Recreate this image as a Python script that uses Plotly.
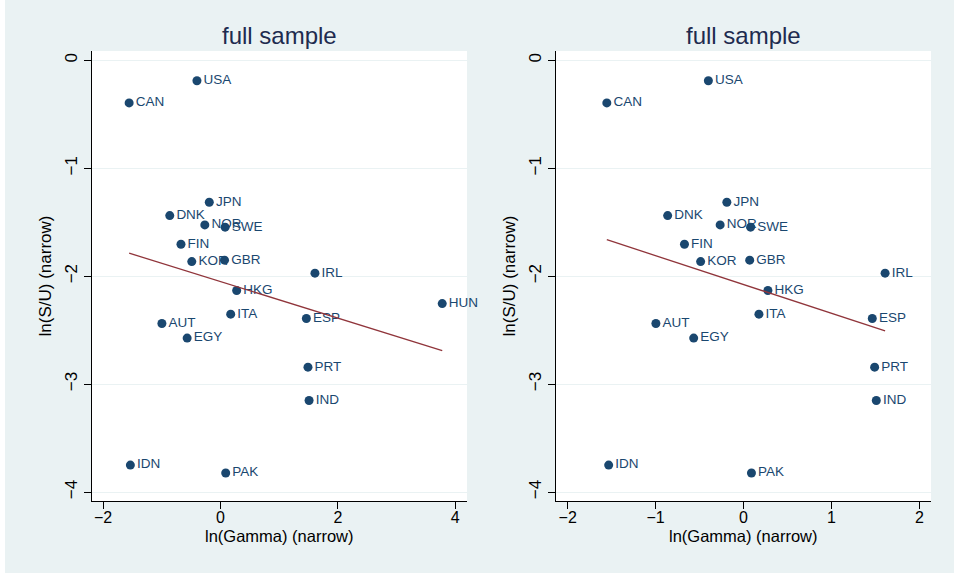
import numpy as np
import plotly.graph_objects as go

countries = ["USA", "CAN", "JPN", "DNK", "NOR", "SWE", "FIN", "KOR", "GBR", "IRL",
             "HKG", "HUN", "ITA", "ESP", "AUT", "EGY", "PRT", "IND", "IDN", "PAK"]
ln_gamma = [-0.40, -1.555, -0.19, -0.863, -0.266, 0.08, -0.672, -0.488, 0.07, 1.61,
            0.277, 3.778, 0.175, 1.464, -0.997, -0.567, 1.491, 1.51, -1.534, 0.09]
ln_su = [-0.19, -0.395, -1.315, -1.439, -1.525, -1.546, -1.704, -1.865, -1.852, -1.972,
         -2.133, -2.254, -2.352, -2.392, -2.439, -2.574, -2.843, -3.152, -3.75, -3.824]
excluded_right = ["HUN"]

titles = ["full sample", "full sample"]
x_title = "ln(Gamma) (narrow)"
y_title = "ln(S/U) (narrow)"
left_xticks = [-2, 0, 2, 4]
right_xticks = [-2, -1, 0, 1, 2]
yticks = [0, -1, -2, -3, -4]

NAVY = "#1a476f"
MAROON = "#90353b"
BG = "#eaf2f3"
FONT = "Liberation Sans, Arial, sans-serif"

W, H = 949, 573
L, R, T, B = 87, 23, 51, 72
pw = W - L - R
dom_left = [0, (462 - L) / pw]
dom_right = [(551 - L) / pw, 1]

fig = go.Figure()

def add_panel(xs, ys, labels, xa, ya):
    fig.add_trace(go.Scatter(
        x=xs, y=ys, mode="markers+text", text=labels, textposition="middle right",
        marker=dict(color=NAVY, size=9),
        textfont=dict(color=NAVY, size=13.5, family=FONT),
        xaxis=xa, yaxis=ya, showlegend=False, cliponaxis=False, hoverinfo="skip"))
    slope, icpt = np.polyfit(np.array(xs), np.array(ys), 1)
    xl = np.array([min(xs), max(xs)])
    fig.add_trace(go.Scatter(
        x=xl, y=icpt + slope * xl, mode="lines",
        line=dict(color=MAROON, width=1.3),
        xaxis=xa, yaxis=ya, showlegend=False, hoverinfo="skip"))

add_panel(ln_gamma, ln_su, countries, "x", "y")
keep = [i for i, c in enumerate(countries) if c not in excluded_right]
add_panel([ln_gamma[i] for i in keep], [ln_su[i] for i in keep],
          [countries[i] for i in keep], "x2", "y2")

axis_common = dict(
    showline=True, linecolor="#000000", linewidth=1.3,
    ticks="outside", ticklen=7, tickcolor="#000000", tickwidth=1,
    tickfont=dict(family=FONT, size=16, color="#000000"),
    zeroline=False, mirror=False,
)
xcommon = dict(axis_common, showgrid=False, ticklabelstandoff=-5)
ycommon = dict(axis_common, showgrid=True, gridcolor=BG, gridwidth=1,
               tickvals=yticks, ticktext=["0", "\u22121", "\u22122", "\u22123", "\u22124"],
               tickangle=-90, range=[-4.083, 0.086],
               tickfont=dict(family=FONT, size=17, color="#000000"),
               title=dict(text=y_title, font=dict(family=FONT, size=17, color="#000000"), standoff=6))

def minus(v):
    return ("\u2212" + str(-v)) if v < 0 else str(v)

annotations = []
for dom, ttl in zip([dom_left, dom_right], titles):
    annotations.append(dict(
        text=ttl, x=sum(dom) / 2, y=1, xref="paper", yref="paper",
        xanchor="center", yanchor="middle", yshift=16, showarrow=False,
        font=dict(family=FONT, size=24, color="#1e2b4f")))
    annotations.append(dict(
        text=x_title, x=sum(dom) / 2, y=0, xref="paper", yref="paper",
        xanchor="center", yanchor="middle", yshift=-35, showarrow=False,
        font=dict(family=FONT, size=16.5, color="#000000")))

fig.update_layout(
    width=W, height=H, autosize=False,
    margin=dict(l=L, r=R, t=T, b=B, pad=0),
    paper_bgcolor=BG, plot_bgcolor="#ffffff",
    font=dict(family=FONT),
    xaxis=dict(xcommon, domain=dom_left, range=[-2.1875, 4.2], anchor="y",
               tickvals=left_xticks, ticktext=[minus(v) for v in left_xticks]),
    yaxis=dict(ycommon, anchor="x"),
    xaxis2=dict(xcommon, domain=dom_right, range=[-2.133, 2.132], anchor="y2",
                tickvals=right_xticks, ticktext=[minus(v) for v in right_xticks]),
    yaxis2=dict(ycommon, anchor="x2"),
    annotations=annotations,
)

fig.write_html("out.html", post_script="document.body.style.margin='0 0 0 5px';")
